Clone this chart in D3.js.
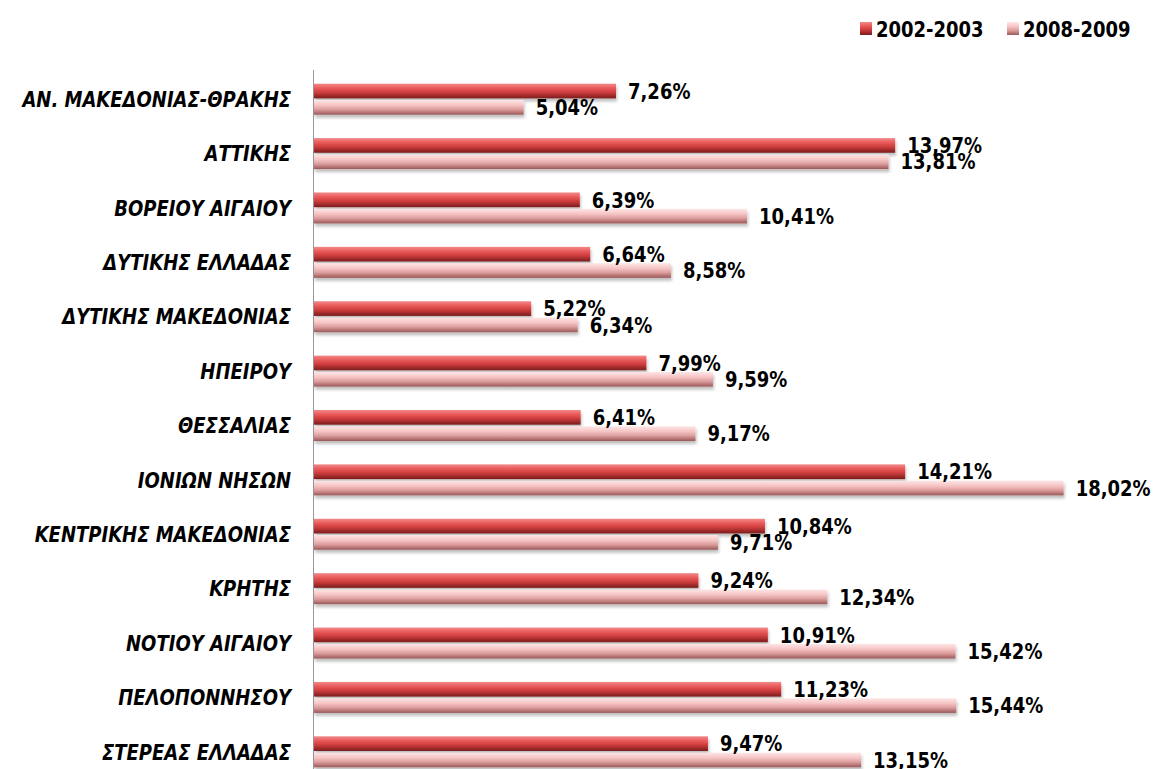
<!DOCTYPE html>
<html>
<head>
<meta charset="utf-8">
<script src="https://cdn.jsdelivr.net/npm/d3@7"></script>
<style>
body { margin: 0; background: #fff; }
.cat { font-family: "DejaVu Sans Condensed", "DejaVu Sans", sans-serif; font-weight: bold; font-style: italic; font-size: 22px; fill: #000; }
.val { font-family: "DejaVu Sans Condensed", "DejaVu Sans", sans-serif; font-weight: bold; font-size: 22px; fill: #000; }
.leg { font-family: "DejaVu Sans Condensed", "DejaVu Sans", sans-serif; font-weight: bold; font-size: 22px; fill: #000; }
</style>
</head>
<body>
<div id="chart"></div>
<script>
//data
var regions = ["ΑΝ. ΜΑΚΕΔΟΝΙΑΣ-ΘΡΑΚΗΣ", "ΑΤΤΙΚΗΣ", "ΒΟΡΕΙΟΥ ΑΙΓΑΙΟΥ", "ΔΥΤΙΚΗΣ ΕΛΛΑΔΑΣ",
    "ΔΥΤΙΚΗΣ ΜΑΚΕΔΟΝΙΑΣ", "ΗΠΕΙΡΟΥ", "ΘΕΣΣΑΛΙΑΣ", "ΙΟΝΙΩΝ ΝΗΣΩΝ", "ΚΕΝΤΡΙΚΗΣ ΜΑΚΕΔΟΝΙΑΣ",
    "ΚΡΗΤΗΣ", "ΝΟΤΙΟΥ ΑΙΓΑΙΟΥ", "ΠΕΛΟΠΟΝΝΗΣΟΥ", "ΣΤΕΡΕΑΣ ΕΛΛΑΔΑΣ"];
var series = ["2002-2003", "2008-2009"];
var values2002 = [7.26, 13.97, 6.39, 6.64, 5.22, 7.99, 6.41, 14.21, 10.84, 9.24, 10.91, 11.23, 9.47];
var values2008 = [5.04, 13.81, 10.41, 8.58, 6.34, 9.59, 9.17, 18.02, 9.71, 12.34, 15.42, 15.44, 13.15];

var width = 1154, height = 769;

var svg = d3.select("#chart").append("svg")
    .attr("width", width)
    .attr("height", height);

var defs = svg.append("defs");

//gradients for the two series
var grads = [
    {id: "g0", stops: [["0%", "#f28a8a"], ["30%", "#ea5a5a"], ["60%", "#cc3c3c"], ["100%", "#7a1c1c"]]},
    {id: "g1", stops: [["0%", "#fde6e6"], ["35%", "#f6c4c4"], ["65%", "#dc9c9c"], ["100%", "#9a5858"]]}
];
grads.forEach(function(g) {
    var lg = defs.append("linearGradient").attr("id", g.id)
        .attr("x1", 0).attr("y1", 0).attr("x2", 0).attr("y2", 1);
    g.stops.forEach(function(s) {
        lg.append("stop").attr("offset", s[0]).attr("stop-color", s[1]);
    });
});

var shadow = defs.append("filter").attr("id", "shadow")
    .attr("x", "-5%").attr("y", "-30%").attr("width", "110%").attr("height", "180%");
shadow.append("feDropShadow")
    .attr("dx", 1).attr("dy", 3).attr("stdDeviation", 1.5)
    .attr("flood-color", "#000").attr("flood-opacity", 0.25);

var x = d3.scaleLinear()
    .domain([0, 20])
    .range([314, 1146]);

var y = d3.scaleBand()
    .domain(regions)
    .range([72, 779])
    .paddingInner(0.43)
    .paddingOuter(0.215);

var ySub = d3.scaleBand()
    .domain(series)
    .range([0, y.bandwidth()])
    .paddingInner(0.1);

var rows = regions.map(function(r, i) {
    return {region: r, vals: [values2002[i], values2008[i]]};
});

var fmt = function(v) { return d3.format(".2f")(v).replace(".", ",") + "%"; };

//the font is wider than the original one, so squeeze the texts a bit
var squeeze = 0.91;

//category axis line
svg.append("line")
    .attr("x1", x(0) - 0.5).attr("x2", x(0) - 0.5)
    .attr("y1", 70).attr("y2", height)
    .attr("stroke", "#999")
    .attr("stroke-width", 1);

//category labels
svg.selectAll("text.cat")
    .data(regions)
    .enter().append("text")
    .attr("class", "cat")
    .attr("transform", function(d) { return "translate(291," + (y(d) + y.bandwidth() / 2) + ") scale(" + squeeze + ",1)"; })
    .attr("dy", "0.35em")
    .attr("text-anchor", "end")
    .text(function(d) { return d; });

var groups = svg.selectAll("g.row")
    .data(rows)
    .enter().append("g")
    .attr("class", "row")
    .attr("transform", function(d) { return "translate(0," + y(d.region) + ")"; });

groups.selectAll("rect")
    .data(function(d) { return d.vals.map(function(v, j) { return {v: v, s: series[j], j: j}; }); })
    .enter().append("rect")
    .attr("x", x(0))
    .attr("y", function(d) { return ySub(d.s); })
    .attr("width", function(d) { return x(d.v) - x(0); })
    .attr("height", ySub.bandwidth())
    .attr("fill", function(d) { return "url(#g" + d.j + ")"; })
    .attr("filter", "url(#shadow)");

//value labels
groups.selectAll("text.val")
    .data(function(d) { return d.vals.map(function(v, j) { return {v: v, s: series[j]}; }); })
    .enter().append("text")
    .attr("class", "val")
    .attr("transform", function(d) { return "translate(" + (x(d.v) + 12) + "," + (ySub(d.s) + ySub.bandwidth() / 2) + ") scale(" + squeeze + ",1)"; })
    .attr("dy", "0.35em")
    .text(function(d) { return fmt(d.v); });

//legend
var legendX = [860, 1007];
var legend = svg.selectAll("g.legend")
    .data(series)
    .enter().append("g")
    .attr("class", "legend")
    .attr("transform", function(d, i) { return "translate(" + legendX[i] + ",22)"; });

legend.append("rect")
    .attr("width", 12).attr("height", 13)
    .attr("fill", function(d, i) { return "url(#g" + i + ")"; });

legend.append("text")
    .attr("class", "leg")
    .attr("transform", "translate(16,7) scale(" + squeeze + ",1)")
    .attr("dy", "0.35em")
    .text(function(d) { return d; });
</script>
</body>
</html>
